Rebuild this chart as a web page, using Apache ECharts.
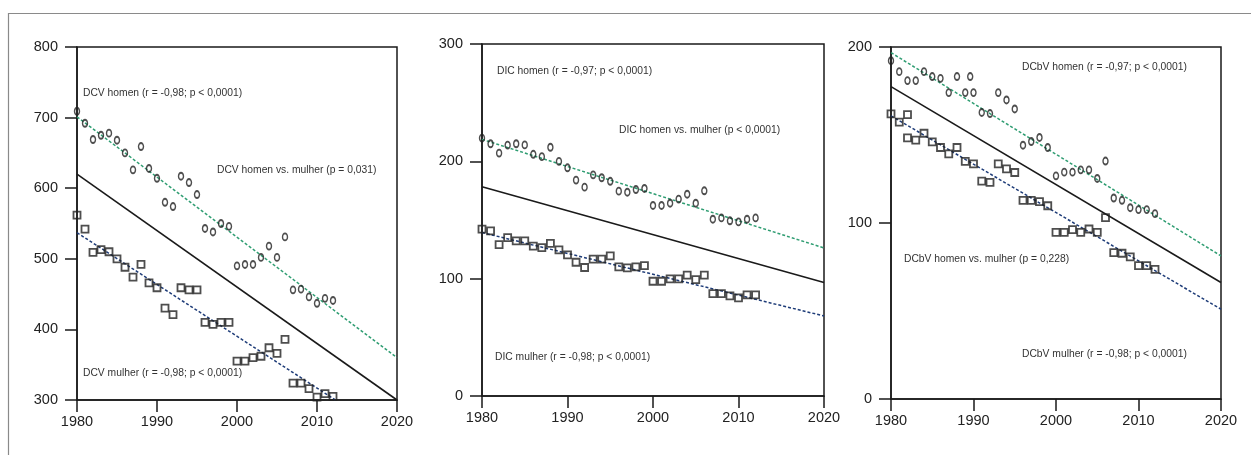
<!DOCTYPE html>
<html>
<head>
<meta charset="utf-8">
<script src="https://cdn.jsdelivr.net/npm/echarts@6/dist/echarts.min.js"></script>
<style>
html,body{margin:0;padding:0;background:#fff;}
#chart{width:1251px;height:455px;}
</style>
</head>
<body>
<div id="chart"></div>
<script>
// ---- Data ----
const years = [1980,1981,1982,1983,1984,1985,1986,1987,1988,1989,1990,1991,1992,1993,1994,1995,1996,1997,1998,1999,2000,2001,2002,2003,2004,2005,2006,2007,2008,2009,2010,2011,2012];

const dcvHomen  = [709,692,669,675,678,668,650,626,659,628,614,580,574,617,608,591,543,538,550,546,490,492,492,502,518,502,531,456,457,446,437,444,441];
const dcvMulher = [562,542,509,513,510,500,488,474,492,466,459,430,421,459,456,456,410,407,410,410,355,355,360,362,374,366,386,324,324,316,304,309,305];

const dicHomen  = [219.8,215,207,213.8,215,214,206,204,212,200,194.5,184,178,188.5,186,183,174.6,173.7,176,176.9,162.4,162.4,164.3,167.8,172,164.3,174.9,150.7,151.8,149.3,148.4,150.7,151.8];
const dicMulher = [142.2,140.7,129,135,132.2,132.2,127.7,126.5,130,124.5,120.3,114,109.5,116.6,116.6,119.4,110,109.2,110,111.2,97.8,97.8,99.8,99.8,103,99.2,103,87.3,87.3,85.3,83.6,86.2,86.2];

// DCbV panel shows one extra point in each series
const dcbvHomenYears = [1980,1981,1982,1983,1984,1985,1986,1987,1988,1989,1989.6,1990,1991,1992,1993,1994,1995,1996,1997,1998,1999,2000,2001,2002,2003,2004,2005,2006,2007,2008,2009,2010,2011,2012];
const dcbvHomen = [192.2,186,180.9,180.9,186,183.2,182.2,174.1,183.2,174.1,183.2,174.1,162.8,162.2,174.1,169.9,164.8,144.2,146.3,148.6,142.9,126.8,128.9,128.9,130.2,130.2,125.3,135.2,114.2,112.9,108.7,107.6,107.6,105.3];
const dcbvMulherYears = [1980,1981,1982,1982,1983,1984,1985,1986,1987,1988,1989,1990,1991,1992,1993,1994,1995,1996,1997,1998,1999,2000,2001,2002,2003,2004,2005,2006,2007,2008,2009,2010,2011,2012];
const dcbvMulher = [162,157.3,161.6,148.4,147.1,151,146.1,142.9,139.3,142.9,135,133.6,123.8,123.1,133.6,130.8,128.7,112.9,112.9,112.1,109.8,94.7,94.7,96.2,94.7,96.6,94.7,103,83.2,82.8,80.7,75.8,75.8,73.7];

// Regression line endpoints [x, y]
const dcvFitHomen  = [[1980,701],[2020,360]];
const dcvFitMulher = [[1980,537],[2012.3,300]];
const dcvFitAll    = [[1980,620],[2020,300]];
const dicFitHomen  = [[1980,218.7],[2020,126.2]];
const dicFitMulher = [[1980,139.3],[2020,68.2]];
const dicFitAll    = [[1980,178.3],[2020,96.7]];
const dcbvFitHomen  = [[1980,196.8],[2020,81.3]];
const dcbvFitMulher = [[1980,160.9],[2020,51.0]];
const dcbvFitAll    = [[1980,177.5],[2020,66.2]];

// Axis ranges
const xRange = {min:1980, max:2020, interval:10};
const yRanges = [{min:300,max:800,interval:100},{min:0,max:300,interval:100},{min:0,max:200,interval:100}];

// Annotations
const labels = [
  "DCV homen (r = -0,98; p < 0,0001)",
  "DCV homen vs. mulher (p = 0,031)",
  "DCV mulher (r = -0,98; p < 0,0001)",
  "DIC homen (r = -0,97; p < 0,0001)",
  "DIC homen vs. mulher (p < 0,0001)",
  "DIC mulher (r = -0,98; p < 0,0001)",
  "DCbV homen (r = -0,97; p < 0,0001)",
  "DCbV homen vs. mulher (p = 0,228)",
  "DCbV mulher (r = -0,98; p < 0,0001)"
];

// ---- Styling / layout ----
const GREEN = '#2f9d72', BLUE = '#1e3c78', INK = '#1a1a1a', TXT = '#333';
const FONT = '"Liberation Sans", Arial, sans-serif';
const grids = [
  {left:77, top:47, width:320, height:353},
  {left:482, top:44, width:342, height:352},
  {left:891, top:47, width:330, height:352}
];
const labelPos = [[83,93],[217,170],[83,373],[497,71],[619,130],[495,357],[1022,67],[904,259],[1022,354]];

const zip = (xs, ys) => xs.map((x,i)=>[x, ys[i]]);

const xAxes = grids.map((g,i)=>({
  gridIndex:i, type:'value', min:xRange.min, max:xRange.max, interval:xRange.interval,
  axisLine:{show:true, onZero:false, lineStyle:{color:INK, width:1.5}},
  axisTick:{show:true, inside:false, length:12, lineStyle:{color:INK, width:1.5}},
  axisLabel:{color:'#222', fontFamily:FONT, fontSize:14.5, margin:14, showMaxLabel:true, showMinLabel:true,
             formatter: v => String(v)},
  splitLine:{show:false}
}));
const yAxes = yRanges.map((r,i)=>({
  gridIndex:i, type:'value', min:r.min, max:r.max, interval:r.interval,
  axisLine:{show:true, onZero:false, lineStyle:{color:INK, width:1.5}},
  axisTick:{show:true, inside:false, length:12, lineStyle:{color:INK, width:1.5}},
  axisLabel:{color:'#222', fontFamily:FONT, fontSize:14.5, margin:19, formatter: v => String(v)},
  splitLine:{show:false}
}));

function panelSeries(i, hx, hy, mx, my, fitH, fitM, fitA){
  return [
    {type:'line', xAxisIndex:i, yAxisIndex:i, data:fitA, symbol:'none', silent:true, z:2,
     lineStyle:{color:INK, width:1.6}},
    {type:'line', xAxisIndex:i, yAxisIndex:i, data:fitH, symbol:'none', silent:true, z:2,
     lineStyle:{color:GREEN, width:1.5, type:[3,2]}},
    {type:'line', xAxisIndex:i, yAxisIndex:i, data:fitM, symbol:'none', silent:true, z:2,
     lineStyle:{color:BLUE, width:1.5, type:[3,2]}},
    {type:'scatter', xAxisIndex:i, yAxisIndex:i, data:zip(hx,hy), symbol:'circle', symbolSize:[5,7], z:3,
     itemStyle:{color:'rgba(255,255,255,0)', borderColor:'#222', borderWidth:1.6}},
    {type:'scatter', xAxisIndex:i, yAxisIndex:i, data:zip(mx,my), symbol:'rect', symbolSize:7, z:3,
     itemStyle:{color:'rgba(255,255,255,0)', borderColor:'#222', borderWidth:1.8}}
  ];
}

const series = [].concat(
  panelSeries(0, years, dcvHomen, years, dcvMulher, dcvFitHomen, dcvFitMulher, dcvFitAll),
  panelSeries(1, years, dicHomen, years, dicMulher, dicFitHomen, dicFitMulher, dicFitAll),
  panelSeries(2, dcbvHomenYears, dcbvHomen, dcbvMulherYears, dcbvMulher, dcbvFitHomen, dcbvFitMulher, dcbvFitAll)
);

const graphic = [
  {type:'polyline', silent:true, z:0, shape:{points:[[8.5,455],[8.5,13.5],[1251,13.5]]}, style:{stroke:'#8a8a8a', lineWidth:1.2, fill:null}}
].concat(labels.map((t,k)=>({
  type:'text', x:labelPos[k][0], y:labelPos[k][1], silent:true, z:10,
  style:{text:t, fill:TXT, font:'10.3px "Liberation Sans", Arial, sans-serif', verticalAlign:'middle', align:'left'}
})));

const chart = echarts.init(document.getElementById('chart'), null, {renderer:'canvas'});
chart.setOption({
  animation:false,
  backgroundColor:'#fff',
  grid: grids.map(g=>Object.assign({show:true, borderColor:INK, borderWidth:1.5, backgroundColor:'transparent'}, g)),
  xAxis: xAxes,
  yAxis: yAxes,
  series: series,
  graphic: graphic
});
</script>
</body>
</html>
